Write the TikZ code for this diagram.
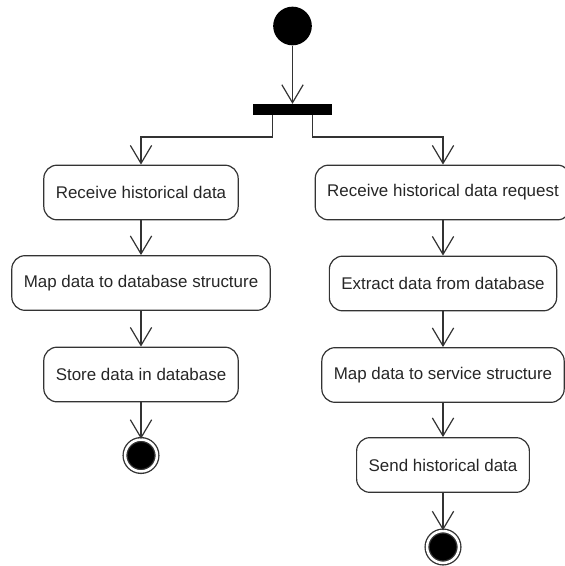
\documentclass[tikz,border=0pt]{standalone}
\usepackage{fontspec}
\setmainfont{Liberation Sans}
\usetikzlibrary{arrows.meta}
\begin{document}
\begin{tikzpicture}[x=0.75pt,y=-0.75pt,
    font=\fontsize{12.7}{15}\selectfont,
    activity/.style={rectangle,rounded corners=10pt,draw=black!80,line width=0.9pt,
      text=black!85,inner xsep=9pt,minimum height=41pt},
    initial/.style={circle,fill=black,minimum size=29pt,inner sep=0pt},
    final/.style={circle,draw=black!80,line width=1pt,double=white,
      double distance=1.9pt,fill=black,minimum size=23.9pt,inner sep=0pt},
    forkbar/.style={rectangle,fill=black,minimum width=59pt,minimum height=8pt,inner sep=0pt},
    flow/.style={draw=black!80,line width=0.9pt,-{Straight Barb[length=13.5pt,width=16pt]}}]
  \useasboundingbox (0,0) rectangle (564,566);
  \node[initial] (start) at (292.5,26) {};
  \node[forkbar] (fork) at (292.5,109.5) {};
  % storing branch
  \node[activity] (recv)  at (141,192.5) {Receive historical data};
  \node[activity] (mapdb) at (141,283)   {Map data to database structure};
  \node[activity] (store) at (141,374.5) {Store data in database};
  \node[final]    (endL)  at (141,455.5) {};
  % request branch
  \node[activity] (req)   at (443,192.5) {Receive historical data request};
  \node[activity] (extr)  at (443,283.5) {Extract data from database};
  \node[activity] (mapsv) at (443,375)   {Map data to service structure};
  \node[activity] (send)  at (443,465)   {Send historical data};
  \node[final]    (endR)  at (443,547)   {};
  \draw[flow] (start) -- (fork);
  \draw[flow] ([xshift=-15pt]fork.south) -- ++(0,22) -| (recv.north);
  \draw[flow] ([xshift=15pt]fork.south) -- ++(0,22) -| (req.north);
  \draw[flow] (recv) -- (mapdb);
  \draw[flow] (mapdb) -- (store);
  \draw[flow] (store) -- (endL);
  \draw[flow] (req) -- (extr);
  \draw[flow] (extr) -- (mapsv);
  \draw[flow] (mapsv) -- (send);
  \draw[flow] (send) -- (endR);
\end{tikzpicture}
\end{document}
